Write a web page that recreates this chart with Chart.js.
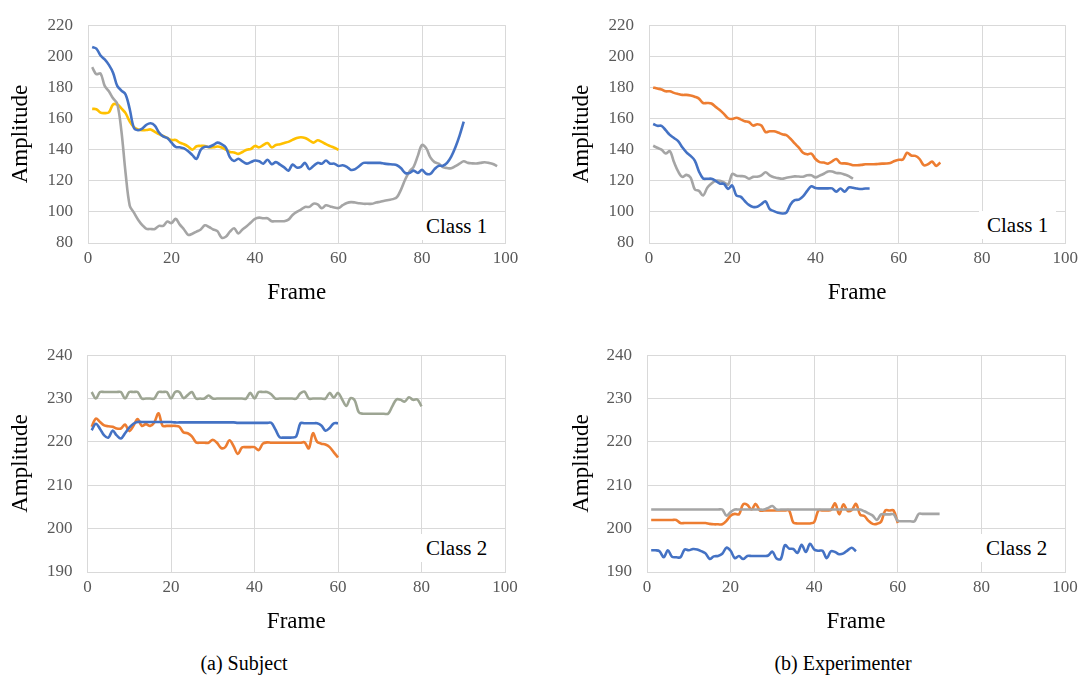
<!DOCTYPE html>
<html>
<head>
<meta charset="utf-8">
<script src="https://cdn.jsdelivr.net/npm/chart.js@4/dist/chart.umd.min.js"></script>
<style>
  html, body { margin: 0; padding: 0; background: #fff; }
  body { width: 1083px; height: 679px; position: relative; overflow: hidden;
         font-family: "Liberation Serif", "Times New Roman", serif; }
  canvas { position: absolute; }
  .cls { position: absolute; background: #fff; font-size: 21px; line-height: 28px; height: 28px;
         padding: 0 8px; color: #000; white-space: nowrap; }
  .cap { position: absolute; font-size: 20px; color: #000; white-space: nowrap; transform: translateX(-50%); }
</style>
</head>
<body>
<canvas id="c1" width="540" height="310" style="left:0;top:0"></canvas>
<canvas id="c2" width="523" height="310" style="left:560px;top:0"></canvas>
<canvas id="c3" width="540" height="310" style="left:0;top:330px"></canvas>
<canvas id="c4" width="523" height="310" style="left:560px;top:330px"></canvas>

<div class="cls" style="left:418px;top:212px">Class 1</div>
<div class="cls" style="left:979px;top:211px">Class 1</div>
<div class="cls" style="left:418px;top:534px">Class 2</div>
<div class="cls" style="left:978px;top:534px">Class 2</div>

<div class="cap" style="left:244px;top:652px">(a) Subject</div>
<div class="cap" style="left:843px;top:652px">(b) Experimenter</div>

<script>
// ---------- DATA ----------
const xTitle = "Frame";
const yTitle = "Amplitude";

// (a) Subject, Class 1
const subjC1Blue = [206,205,200.5,198,194.5,189.5,181,178,175.5,166,
  154,152.5,153.5,156,157,155.5,151,148.5,147.5,144.5,
  141.8,141.5,140.8,139,136.5,134,140,141.8,141.8,143,
  144.5,143.5,141.5,135,132.7,134.2,132.5,131,132,133,
  132.5,131,133.5,130.7,132,130.4,128.6,126.5,130.4,128.5,
  129,131.5,127.5,129.5,131.5,131,133,131,131,129.5,
  130,129,127,127.5,129.5,131.5,131.5,131.5,131.5,131.5,
  131,130.7,130.5,130,128,125,125,126.5,125,127,
  124.5,124.5,127.5,129.6,129.6,131.5,135.5,141.5,149,158];
const subjC1Gray = [193,188.5,189,181,177.5,173,169.5,152,125,104,
  99.5,95,91.5,89.1,89,89,91,91,93.8,92.8,
  95.5,91.8,88.7,85.2,86,87.3,88.7,91.4,90.3,88.7,
  87.6,83.5,84,87.3,89.5,86.2,88.7,90.7,93.2,95.5,
  96.3,95.9,95.9,94,94,94,94,95,98,100,
  101.5,103.2,103.2,105.3,104.8,102.3,104.2,103.5,102.8,102.5,
  104.3,105.7,106.3,106,105.5,105.2,105.2,105.2,106,106.5,
  107.2,107.7,108.2,109.5,114.5,121,126,129,136,143,
  141,135,132,131,128.8,128.2,128,129.4,131,132.5,
  131.5,131.2,131.1,131.5,131.9,131.5,130.8,129.4];
const subjC1Yellow = [166.2,166,163.8,163.5,164,169,169,166.5,163.5,158,
  154.5,153,152.5,152.6,153,151.5,150,148.8,147.5,146.2,
  146.2,144.5,143.5,142,140,142.2,142.4,142.4,141.5,141.5,
  142,141.4,140,138.5,138.2,137.3,138.5,140,140.4,142.4,
  141.5,143,144.3,141.5,143,143.5,144.3,145,146.3,147.5,
  148,147.5,146,144.5,146,145,143.5,142.3,141.2,139.8];

// (b) Experimenter, Class 1
const expC1Orange = [180,179.3,178.7,177.5,177.5,176.5,175.8,175.2,175.2,174.8,
  174,172.8,170,170,169.7,167.5,165.5,163,160.2,159.7,
  160.5,159.5,158.2,157.8,155.5,156.3,155.5,151.3,151.8,151.8,
  151,149.9,149.3,147,144,141.3,138,137,137.5,134,
  132,131.7,131,132.5,134,131.3,131.2,130.8,130,130,
  130.2,130.6,130.6,130.6,130.8,131,131.1,131.5,132.7,133.5,
  133.7,138,136.2,136,134,130,130.6,132.3,129.6,131.7];
const expC1Blue = [156.5,155.3,155.3,152.5,149.5,147.5,145.5,141.5,138.3,136,
  133,126,121.5,121.3,121.3,120,118.2,118,114.8,117,
  110.5,109.8,107,104.5,103.2,103.3,105,106.8,101.8,100.5,
  99.5,99,99.5,104.8,107.5,107.9,110,113.5,116.5,115.3,
  115.1,115.1,115.1,115.1,113,115,113,115.7,115.5,115,
  114.7,115,115];
const expC1Gray = [142.5,141.2,140,137.5,139,132,126,122.5,123.8,122,
  114.5,113.5,110.5,115.5,118.2,120,120,119,117.5,124.4,
  123.3,123,122.8,121.3,122.5,122.6,123.5,125.5,123.5,122.2,
  121.7,121.3,122,122.4,122.8,122.7,122.6,123.5,123.5,122.2,
  123.3,124.5,126,126,125,124.8,124,123,121.3];

// (a) Subject, Class 2
const subjC2Gray = [231.5,230,231.5,231.5,231.5,231.5,231.5,231.5,230,231.5,
  231.5,231.5,230,230,230,230,231.5,231.5,231.5,230,
  231.5,231.5,230.1,230.8,231.5,230,230,230,230.7,230,
  230,230,230,230,230,230,230,230,231.3,230,
  231.5,231.5,231.5,231,230,230,230,230,230,230,
  231.2,231.6,230,230,230,230,230,231.3,230.2,231.3,
  229.8,228.3,230.1,229.6,226.8,226.5,226.5,226.5,226.5,226.5,
  226.5,226.5,228.2,229.8,229.7,229.3,230.3,229.7,229.8,228.2];
const subjC2Blue = [222.7,224.2,223,221.5,221,222.6,221.5,220.8,222,223.3,
  224.2,224.6,224.6,224.6,224.6,224.6,224.6,224.6,224.6,224.6,
  224.5,224.5,224.5,224.5,224.5,224.5,224.5,224.5,224.5,224.5,
  224.5,224.5,224.5,224.5,224.5,224.4,224.4,224.4,224.4,224.4,
  224.4,224.4,224.4,224.4,222.9,221.1,221,221,221,221.3,
  224.3,224.3,224.3,224.3,224.3,223.8,222.6,223.2,224.3,224.3];
const subjC2Orange = [223.5,225.4,224.6,223.8,223.6,223.5,223.1,223.1,224,222.5,
  223.7,225.3,223.7,224.1,223.7,224.5,226.6,223.7,223.7,223.7,
  223.7,223.5,222.2,222,221.3,219.9,219.8,219.8,219.8,220.5,
  219.8,218.6,218.8,220.4,219,217.2,218.7,218.8,218.8,218.8,
  218.1,219.6,219.9,219.8,219.8,219.8,219.8,219.8,219.8,219.8,
  219.8,219.9,218.5,222,220,219.6,219.4,218.8,217.6,216.4];

// (b) Experimenter, Class 2
const expC2Gray = [204.4,204.4,204.4,204.4,204.4,204.4,204.4,204.4,204.4,204.4,
  204.4,204.4,204.4,204.4,204.4,204.4,204.4,204.4,203,203.8,
  204.4,204.4,204.4,204.4,204.4,204.4,204.4,204.4,204.8,205.2,
  204.4,204.4,204.4,204.4,204.4,204.4,204.4,204.4,204.4,204.4,
  204.4,204.4,204.4,204.4,204.4,204.4,204.4,204.4,204.4,204.4,
  204.4,204,203.5,203,202,203.3,203.3,203.3,203.3,201.8,
  201.7,201.7,201.7,201.7,203.4,203.4,203.4,203.4,203.4,203.4];
const expC2Orange = [202,202,202,202,202,202,202,201.3,201.3,201.3,
  201.3,201.3,201.3,201.3,201.1,201,201,201,201.8,203,
  203.4,203.3,205.6,205.5,204.4,205.7,204.2,204.2,204.2,204.2,
  204.2,204.2,204.2,204.2,201.4,201.2,201.2,201.2,201.2,201.5,
  204.2,204.2,204.2,204.3,205.8,203.3,205.6,204.1,204.3,205.7,
  203.2,202.9,201.8,201.1,201.1,201.6,204.2,204.2,204.2,201.3];
const expC2Blue = [195,195,194.8,193.4,195,193.5,193.4,193.4,195.2,195,
  195.3,195.2,194.8,194.3,193,193.6,193.7,194.2,195.6,194.9,
  193.2,193.7,193,193.7,193.7,193.7,193.7,193.7,193.8,194.7,
  193.1,193,196.2,195.4,195.3,194.4,196.3,194.6,196.5,195.2,
  194.9,194.9,193.2,194.8,194.6,194.1,194.3,195,195.6,194.8];

// ---------- STYLE ----------
const BLUE = "#4472C4", ORANGE = "#ED7D31", GRAY = "#A5A5A5", YELLOW = "#FFC000", GREENGRAY = "#9DA593";
const FONT = '"Liberation Serif", "Times New Roman", serif';
Chart.defaults.font.family = FONT;

function series(values, color) {
  return {
    data: values.map((v, i) => ({ x: i + 1, y: v })),
    borderColor: color, backgroundColor: color,
    borderWidth: 2.6, pointRadius: 0, tension: 0.35, fill: false
  };
}

function makeChart(id, datasets, yMin, yMax, yStep, geo) {
  new Chart(document.getElementById(id), {
    type: "line",
    data: { datasets },
    options: {
      responsive: false, animation: false,
      layout: { padding: { left: 0, top: geo.padTop, right: geo.padRight, bottom: 0 } },
      plugins: { legend: { display: false }, tooltip: { enabled: false } },
      scales: {
        x: {
          type: "linear", min: 0, max: 100,
          ticks: { stepSize: 20, color: "#595959", font: { size: 17, family: FONT }, padding: 5, maxRotation: 0 },
          grid: { color: "#D9D9D9", lineWidth: 1, drawTicks: false },
          border: { display: true, color: "#D9D9D9" },
          title: { display: true, text: xTitle, color: "#000", font: { size: 23, family: FONT }, padding: { top: 0, bottom: geo.xTitlePad } },
          afterFit: s => { s.height = geo.xH; }
        },
        y: {
          min: yMin, max: yMax,
          ticks: { stepSize: yStep, color: "#595959", font: { size: 17, family: FONT }, padding: 15 },
          grid: { color: "#D9D9D9", lineWidth: 1, drawTicks: false },
          border: { display: true, color: "#D9D9D9" },
          title: { display: true, text: yTitle, color: "#000", font: { size: 23, family: FONT }, padding: { top: geo.yTitlePad, bottom: 0 } },
          afterFit: s => { s.width = geo.yW; }
        }
      }
    }
  });
}

makeChart("c1", [series(subjC1Blue, BLUE), series(subjC1Gray, GRAY), series(subjC1Yellow, YELLOW)],
  80, 220, 20, { padTop: 18, padRight: 34.5, yW: 88, xH: 67, xTitlePad: 3, yTitlePad: 7 });
makeChart("c2", [series(expC1Orange, ORANGE), series(expC1Blue, BLUE), series(expC1Gray, GRAY)],
  80, 220, 20, { padTop: 18, padRight: 17, yW: 89, xH: 67, xTitlePad: 3, yTitlePad: 8 });
makeChart("c3", [series(subjC2Gray, GREENGRAY), series(subjC2Blue, BLUE), series(subjC2Orange, ORANGE)],
  190, 240, 10, { padTop: 17, padRight: 35, yW: 87.5, xH: 68, xTitlePad: 4, yTitlePad: 7 });
makeChart("c4", [series(expC2Gray, GRAY), series(expC2Orange, ORANGE), series(expC2Blue, BLUE)],
  190, 240, 10, { padTop: 17, padRight: 18, yW: 87, xH: 68, xTitlePad: 4, yTitlePad: 8 });
</script>
</body>
</html>
